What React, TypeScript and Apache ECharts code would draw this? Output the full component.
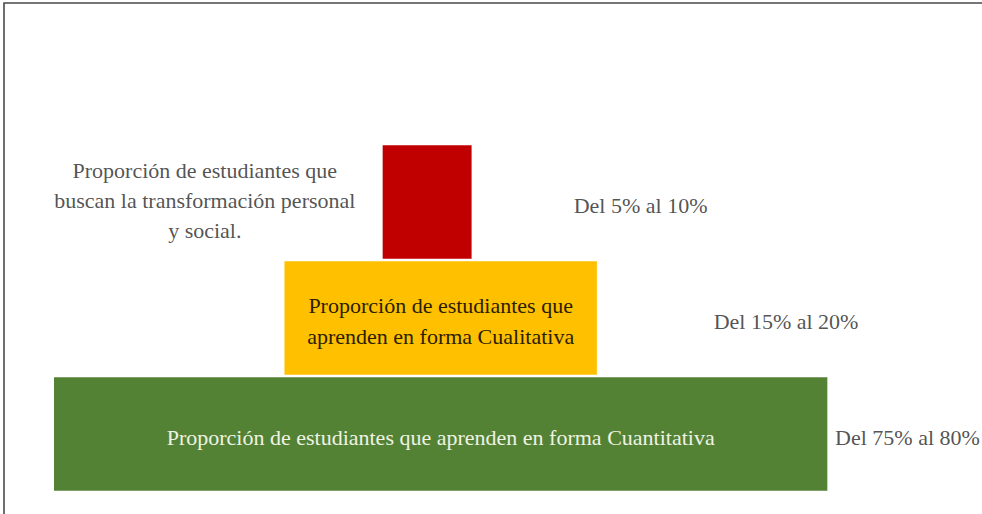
import React, { useEffect, useRef } from "react";
import * as echarts from "echarts";

// Levels of the pyramid, bottom to top
const levels = ["Cuantitativa", "Cualitativa", "Transformación"];
// Horizontal start and width of each block (axis units, base block = 100)
const barStart = [0, 29.8, 42.5];
const barWidth = [100, 40.4, 11.5];
const barColors = ["#548235", "#FFC000", "#C00000"];
const insideText = [
  "Proporción de estudiantes que aprenden en forma Cuantitativa",
  "Proporción de estudiantes que\naprenden en forma Cualitativa",
  "",
];
const insideTextColors = ["#eef3e3", "#2a2000", "#ffffff"];
// Note placed beside the top block
const sideNote = "Proporción de estudiantes que\nbuscan la transformación personal\ny social.";
const sideNoteX = 19.5;
const sideNoteLevel = "Transformación";
// Range labels to the right of each block
const rangeLabels = ["Del 75% al 80%", "Del 15% al 20%", "Del 5% al 10%"];
const rangeLabelX = [101, 85.3, 67.2];

const FONT = "'Liberation Serif', 'Times New Roman', serif";

export default function App() {
  const ref = useRef<HTMLDivElement>(null);

  useEffect(() => {
    if (!ref.current) return;
    const chart = echarts.init(ref.current, undefined, { renderer: "svg" });
    const option: any = {
      animation: false,
      backgroundColor: "#ffffff",
      graphic: [
        {
          type: "rect",
          shape: { x: 4, y: 3, width: 1400, height: 800 },
          style: { fill: "none", stroke: "#4a4a4a", lineWidth: 1.6 },
          silent: true,
        },
      ],
      grid: { left: 54, top: 144, width: 930, height: 348 },
      xAxis: {
        type: "value",
        min: 0,
        max: 120,
        show: false,
        splitLine: { show: false },
      },
      yAxis: {
        type: "category",
        data: levels,
        show: false,
      },
      series: [
        {
          type: "bar",
          stack: "p",
          barCategoryGap: "2%",
          itemStyle: { color: "transparent" },
          data: barStart,
          silent: true,
        },
        {
          type: "bar",
          stack: "p",
          barCategoryGap: "2%",
          data: barWidth.map((v, i) => ({
            value: v,
            itemStyle: { color: barColors[i] },
            label: {
              show: insideText[i] !== "",
              position: "inside",
              formatter: insideText[i],
              color: insideTextColors[i],
              fontFamily: FONT,
              fontSize: 22,
              lineHeight: 31,
              align: "center",
              offset: [0, 3],
            },
          })),
        },
        {
          type: "scatter",
          symbolSize: 0,
          clip: false,
          data: rangeLabelX.map((x, i) => [x, levels[i]]),
          label: {
            show: true,
            position: "right",
            distance: 0,
            offset: [0, 3],
            formatter: (p: any) => rangeLabels[p.dataIndex],
            color: "#262626",
            fontFamily: FONT,
            fontSize: 22,
          },
        },
        {
          type: "scatter",
          symbolSize: 0,
          clip: false,
          data: [[sideNoteX, sideNoteLevel]],
          label: {
            show: true,
            position: "inside",
            offset: [0, -2],
            formatter: sideNote,
            color: "#262626",
            fontFamily: FONT,
            fontSize: 22,
            lineHeight: 30,
            align: "center",
          },
        },
      ],
    };
    chart.setOption(option);
    return () => chart.dispose();
  }, []);

  return (
    <div
      ref={ref}
      style={{ position: "absolute", left: 0, top: 0, width: 982, height: 514, background: "#fff" }}
    />
  );
}
